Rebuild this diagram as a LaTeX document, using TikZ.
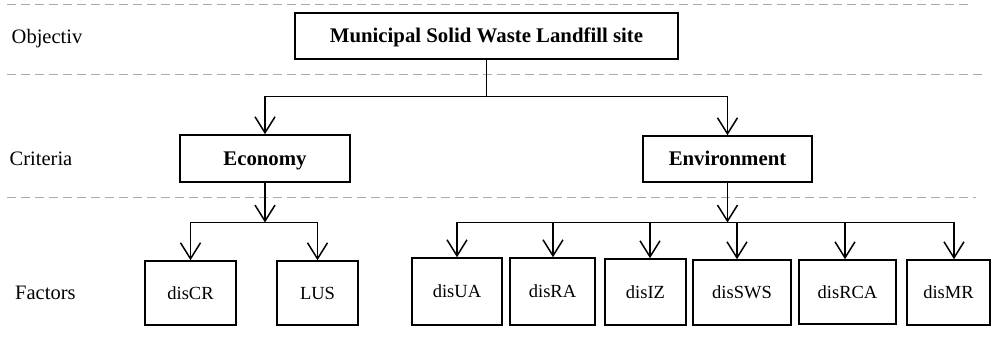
\documentclass[tikz,border=0pt]{standalone}
\usepackage{fontspec}
\setmainfont{Liberation Serif}
\usetikzlibrary{arrows.meta}
\begin{document}
\begin{tikzpicture}[x=1pt,y=-1pt,
  box/.style={draw,line width=1.6pt,inner sep=0pt,align=center,text depth=0pt},
  conn/.style={line width=1.5pt},
  arr/.style={conn,-{Straight Barb[length=16pt,width=20pt]}},
  sep/.style={draw=black!33,line width=1pt,dash pattern=on 9pt off 5pt},
  lab/.style={anchor=base west,inner sep=0pt,font=\fontsize{20.5}{24}\selectfont},
  crit/.style={box,text height=13.7pt,font=\bfseries\fontsize{20.8}{24}\selectfont},
  fac/.style={box,text height=12.2pt,font=\fontsize{18.5}{22}\selectfont}]
\useasboundingbox (0,0) rectangle (991,339);
% separators
\draw[sep] (7,5) -- (970,5);
\draw[sep] (7,75) -- (983,75);
\draw[sep] (7,198) -- (976,198);
% level labels
\node[lab] (objl) at (11.5,43.5) {Objectiv};
\node[lab] (critl) at (9.5,166) {Criteria};
\node[lab] (facl) at (15,299.5) {Factors};
% boxes
\node[crit,minimum width=383pt,minimum height=46pt] (top) at (486.5,36) {Municipal Solid Waste Landfill site};
\node[crit,minimum width=170pt,minimum height=47pt] (econ) at (265,158.5) {Economy};
\node[crit,minimum width=169pt,minimum height=46pt] (env) at (727.5,159) {Environment};
\node[fac,minimum width=91pt,minimum height=64pt] (discr) at (190.5,293) {disCR};
\node[fac,minimum width=81pt,minimum height=64pt] (lus) at (317.5,293) {LUS};
\node[fac,minimum width=90pt,minimum height=67pt] (disua) at (457,291.5) {disUA};
\node[fac,minimum width=85pt,minimum height=67pt] (disra) at (552.5,291.5) {disRA};
\node[fac,minimum width=81pt,minimum height=66pt] (disiz) at (645.5,292) {disIZ};
\node[fac,minimum width=98pt,minimum height=65pt] (dissws) at (742,292.5) {disSWS};
\node[fac,minimum width=97pt,minimum height=64pt] (disrca) at (847.5,292) {disRCA};
\node[fac,minimum width=83pt,minimum height=65pt] (dismr) at (948.5,292.5) {disMR};
% connectors
\coordinate (t1) at (486.5,96.5);
\draw[conn] (top.south) -- (t1);
\draw[arr] (t1) -| (econ.north);
\draw[arr] (t1) -| (env.north);
\coordinate (eb) at (265,222.5);
\draw[arr] (econ.south) -- (eb);
\draw[arr] (eb) -| (discr.north);
\draw[arr] (eb) -| (lus.north);
\coordinate (vb) at (727.5,222.5);
\draw[arr] (env.south) -- (vb);
\foreach \n/\dx in {disua/0,disra/0.5,disiz/4.5,dissws/-5,disrca/-2.5,dismr/5.5}
  \draw[arr] (vb) -| ([xshift=\dx pt]\n.north);
\end{tikzpicture}
\end{document}
